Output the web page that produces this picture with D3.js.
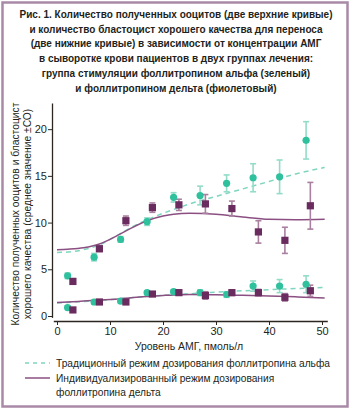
<!DOCTYPE html>
<html><head><meta charset="utf-8">
<script src="https://cdn.jsdelivr.net/npm/d3@7"></script>
<style>body{margin:0;background:#fff}svg{display:block}</style>
</head><body>
<svg id="c" width="350" height="410"></svg>
<script>
const titleLines = [
  "Рис. 1. Количество полученных ооцитов (две верхние кривые)",
  "и количество бластоцист хорошего качества для переноса",
  "(две нижние кривые) в зависимости от концентрации АМГ",
  "в сыворотке крови пациентов в двух группах лечения:",
  "группа стимуляции фоллитропином альфа (зеленый)",
  "и фоллитропином дельта (фиолетовый)"
];
const yLabelLines = ["Количество полученных ооцитов и бластоцист", "хорошего качества (среднее значение ±СО)"];
const xLabel = "Уровень АМГ, пмоль/л";
const xTicks = [0, 10, 20, 30, 40, 50];
const yTicks = [0, 5, 10, 15, 20];
const legendLabels = ["Традиционный режим дозирования фоллитропина альфа", "Индивидуализированный режим дозирования", "фоллитропина дельта"];

// points
const alphaX = [2, 7, 12, 17, 22, 27, 32, 37, 42, 47];
const deltaX = [3, 8, 13, 18, 23, 28, 33, 38, 43, 47.8];
const alphaOocytes = [4.3, 6.3, 8.2, 10.1, 12.7, 12.9, 14.2, 14.8, 14.9, 18.8];
const alphaOocytesSD = [0.3, 0.4, 0.3, 0.4, 0.5, 1.0, 0.9, 1.5, 1.8, 2.0];
const deltaOocytes = [3.7, 7.2, 10.2, 11.6, 11.9, 12.0, 11.5, 9.0, 8.1, 11.8];
const deltaOocytesSD = [0.3, 0.3, 0.5, 0.5, 0.6, 1.0, 0.8, 1.2, 1.4, 2.5];
const alphaBlast = [0.9, 1.5, 1.6, 2.5, 2.6, 2.5, 2.3, 3.2, 3.2, 3.4];
const alphaBlastSD = [0.2, 0.2, 0.2, 0.2, 0.2, 0.3, 0.3, 0.55, 0.7, 0.9];
const deltaBlast = [0.65, 1.5, 1.5, 2.35, 2.5, 2.2, 2.5, 2.5, 2.0, 2.7];
const deltaBlastSD = [0.15, 0.2, 0.2, 0.2, 0.2, 0.4, 0.3, 0.35, 0.4, 0.6];

// fitted curves
const curveX = [0, 2, 5, 8, 11, 14, 17, 20, 22, 25, 30, 35, 40, 45, 50.5];
const alphaOocyteFit = [6.8, 6.85, 7.1, 7.6, 8.5, 9.5, 10.3, 11.0, 11.4, 12.0, 12.8, 13.6, 14.4, 15.2, 15.9];
const deltaOocyteFit = [7.1, 7.15, 7.3, 7.7, 8.5, 9.4, 10.2, 10.7, 10.9, 11.0, 10.9, 10.6, 10.35, 10.3, 10.35];
const alphaBlastFit = [1.4, 1.45, 1.55, 1.65, 1.8, 1.95, 2.1, 2.2, 2.28, 2.38, 2.55, 2.7, 2.82, 2.94, 3.05];
const deltaBlastFit = [1.45, 1.5, 1.6, 1.7, 1.8, 1.95, 2.1, 2.2, 2.26, 2.3, 2.27, 2.22, 2.15, 2.05, 1.93];

const green = "#2fc19d", greenLight = "#93dcc8", greenLine = "#7fd6bf";
const purple = "#6a2b5f", purpleLight = "#a9809f", purpleLine = "#8b4f82";
const axisColor = "#2b2620";
const font = "'Liberation Sans', Arial, sans-serif";

const svg = d3.select("#c");
svg.append("rect").attr("x", 2.5).attr("y", 2.5).attr("width", 345).attr("height", 404)
  .attr("fill", "none").attr("stroke", "#a98aa6").attr("stroke-width", 2.5);

// title
svg.append("g").selectAll("text").data(titleLines).join("text")
  .attr("x", 176).attr("y", (d, i) => 18 + i * 14.7)
  .attr("text-anchor", "middle").attr("font-family", font).attr("font-weight", "bold")
  .attr("font-size", 10.0).attr("fill", "#231f20").text(d => d);

const x = d3.scaleLinear().domain([0, 50]).range([57, 322]);
const y = d3.scaleLinear().domain([0, 22.8]).range([316, 103]);

// axes
const xAxisScale = d3.scaleLinear().domain([-0.7, 51]).range([x(-0.7), x(51)]);
const yAxisScale = d3.scaleLinear().domain([-0.15, 22.8]).range([y(-0.15), y(22.8)]);
const gx = svg.append("g").attr("transform", "translate(0,321)")
  .call(d3.axisBottom(xAxisScale).tickValues(xTicks).tickSize(4).tickSizeOuter(0));
const gy = svg.append("g").attr("transform", "translate(52,0)")
  .call(d3.axisLeft(yAxisScale).tickValues(yTicks).tickSize(4).tickSizeOuter(0));
[gx, gy].forEach(g => {
  g.select(".domain").attr("stroke", axisColor).attr("stroke-width", 1.3);
  g.selectAll(".tick line").attr("stroke", axisColor).attr("stroke-width", 1);
  g.selectAll(".tick text").attr("font-family", font).attr("font-size", 11).attr("fill", "#231f20");
});
gx.selectAll(".tick text").attr("dy", "0.75em").attr("y", 6);
gy.selectAll(".tick text").attr("x", -5);

// axis labels
svg.append("text").attr("x", 189).attr("y", 350).attr("text-anchor", "middle")
  .attr("font-family", font).attr("font-size", 10.5).attr("fill", "#231f20").text(xLabel);
svg.append("g").selectAll("text").data(yLabelLines).join("text")
  .attr("transform", (d, i) => `translate(${19 + i * 12},214) rotate(-90)`)
  .attr("text-anchor", "middle").attr("font-family", font).attr("font-size", 10.3)
  .attr("fill", "#231f20").text(d => d);

// fit lines
const lineGen = d3.line().x(d => x(d[0])).y(d => y(d[1])).curve(d3.curveMonotoneX);
function fitLine(vals, color, dash) {
  svg.append("path").datum(curveX.map((v, i) => [v, vals[i]]))
    .attr("d", lineGen).attr("fill", "none").attr("stroke", color)
    .attr("stroke-width", 1.5).attr("stroke-dasharray", dash);
}
fitLine(alphaOocyteFit, greenLine, "5,4");
fitLine(alphaBlastFit, greenLine, "5,4");
fitLine(deltaOocyteFit, purpleLine, null);
fitLine(deltaBlastFit, purpleLine, null);

// error bars + markers
function errorBars(xs, ys, sds, color) {
  const g = svg.append("g").attr("stroke", color).attr("stroke-width", 1.6);
  xs.forEach((xv, i) => {
    const cx = x(xv), y1 = y(ys[i] - sds[i]), y2 = y(ys[i] + sds[i]);
    g.append("line").attr("x1", cx).attr("x2", cx).attr("y1", y1).attr("y2", y2);
    g.append("line").attr("x1", cx - 3).attr("x2", cx + 3).attr("y1", y1).attr("y2", y1);
    g.append("line").attr("x1", cx - 3).attr("x2", cx + 3).attr("y1", y2).attr("y2", y2);
  });
}
function circles(xs, ys) {
  svg.append("g").selectAll("circle").data(xs).join("circle")
    .attr("cx", d => x(d)).attr("cy", (d, i) => y(ys[i])).attr("r", 3.6).attr("fill", green);
}
function squares(xs, ys) {
  svg.append("g").selectAll("rect").data(xs).join("rect")
    .attr("x", d => x(d) - 3.6).attr("y", (d, i) => y(ys[i]) - 3.6)
    .attr("width", 7.2).attr("height", 7.2).attr("fill", purple);
}
errorBars(alphaX, alphaOocytes, alphaOocytesSD, greenLight);
errorBars(alphaX, alphaBlast, alphaBlastSD, greenLight);
errorBars(deltaX, deltaOocytes, deltaOocytesSD, purpleLight);
errorBars(deltaX, deltaBlast, deltaBlastSD, purpleLight);
circles(alphaX, alphaOocytes);
circles(alphaX, alphaBlast);
squares(deltaX, deltaOocytes);
squares(deltaX, deltaBlast);

// legend
svg.append("line").attr("x1", 25).attr("x2", 50).attr("y1", 363).attr("y2", 363)
  .attr("stroke", greenLine).attr("stroke-width", 1.5).attr("stroke-dasharray", "4,4");
svg.append("line").attr("x1", 25).attr("x2", 50).attr("y1", 378).attr("y2", 378)
  .attr("stroke", purpleLine).attr("stroke-width", 1.5);
svg.append("g").selectAll("text").data(legendLabels).join("text")
  .attr("x", 56).attr("y", (d, i) => [367, 382, 396][i])
  .attr("font-family", font).attr("font-size", 10.2).attr("fill", "#231f20").text(d => d);
</script>
</body></html>
